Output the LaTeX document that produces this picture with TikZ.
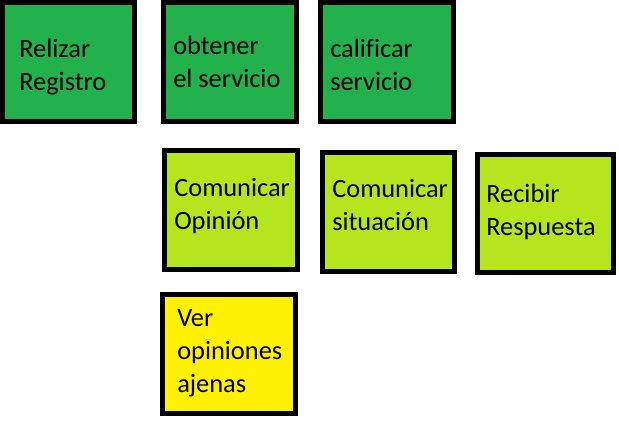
\documentclass[tikz,border=0pt]{standalone}
\usepackage{fontspec}
\setmainfont{Carlito}[Ligatures=CommonOff]
\usepackage{tikz}

\definecolor{verdeosc}{RGB}{34,177,76}
\definecolor{verdecla}{RGB}{181,230,29}
\definecolor{amarillo}{RGB}{255,242,0}

\tikzset{
  caja/.style={draw=black, line width=3.75pt, minimum width=99.5pt, minimum height=89.25pt, inner sep=0pt},
  texto/.style={anchor=base west, align=left, inner sep=0pt, font=\fontsize{19.8}{24.5}\selectfont}
}

\begin{document}
\begin{tikzpicture}[x=0.75pt,y=-0.75pt]
   \useasboundingbox (0,0) rectangle (619,429);
   % fila de arriba
   \node[caja, fill=verdeosc] (registro) at (68.5,62) {};
   \node[texto] (tregistro) at (19,90) {Relizar\\Registro};
   \node[caja, fill=verdeosc] (obtener) at (230,62) {};
   \node[texto] (tobtener) at (173,87) {obtener\\el servicio};
   \node[caja, fill=verdeosc] (calificar) at (387,62) {};
   \node[texto] (tcalificar) at (330,90) {calificar\\servicio};
   % fila del medio
   \node[caja, fill=verdecla] (opinion) at (231,209.5) {};
   \node[texto] (topinion) at (174,229) {Comunicar\\Opinión};
   \node[caja, fill=verdecla] (situacion) at (388.5,212) {};
   \node[texto] (tsituacion) at (332,230) {Comunicar\\situación};
   \node[caja, fill=verdecla, minimum width=102pt, minimum height=88.5pt] (respuesta) at (545.5,213.5) {};
   \node[texto] (trespuesta) at (486,235) {Recibir\\Respuesta};
   % abajo
   \node[caja, fill=amarillo] (ajenas) at (229,354) {};
   \node[texto] (tajenas) at (177,392) {Ver\\opiniones\\ajenas};
\end{tikzpicture}
\end{document}
